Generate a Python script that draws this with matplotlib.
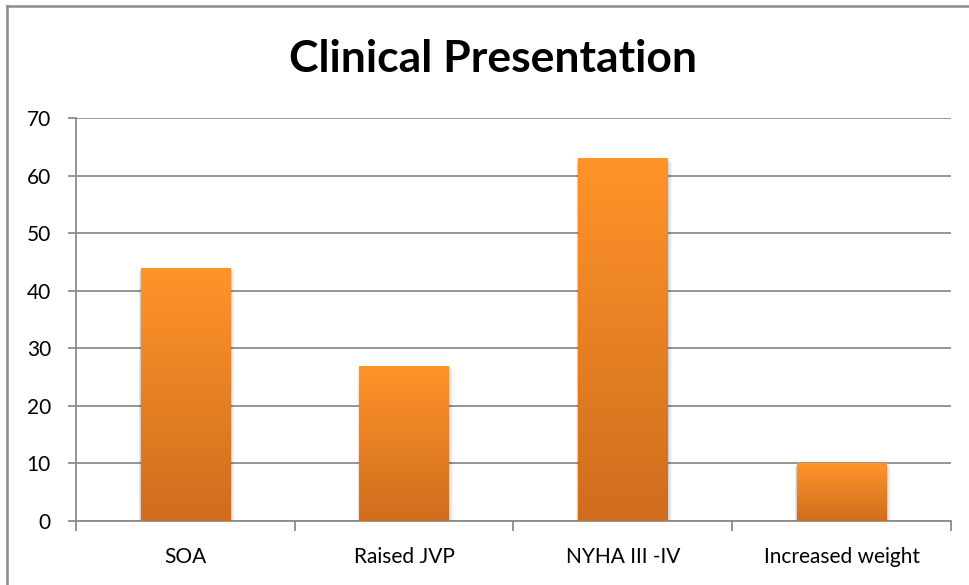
"""Clinical presentation bar chart."""

import matplotlib

matplotlib.use("Agg")
import matplotlib.pyplot as plt
import numpy as np
from matplotlib.colors import LinearSegmentedColormap
from matplotlib.lines import Line2D
from matplotlib.patches import Rectangle

categories = ["SOA", "Raised JVP", "NYHA III -IV", "Increased weight"]
values = [44, 27, 63, 10]
y_ticks = [0, 10, 20, 30, 40, 50, 60, 70]

plt.rcParams["font.family"] = ["Lato", "DejaVu Sans"]

grey = "#8c8c8c"
fig = plt.figure(figsize=(9.69, 5.85), dpi=100)
ax = fig.add_axes([0.0784, 0.1094, 0.9030, 0.6889])

x = np.arange(len(categories))
bars = ax.bar(x, values, width=0.41, color="none", zorder=3)

grad = LinearSegmentedColormap.from_list("bar", ["#cf6d1e", "#ff9429"])
ramp = np.linspace(0, 1, 256).reshape(-1, 1)
for bar in bars:
    x0, y0 = bar.get_x(), bar.get_y()
    w, h = bar.get_width(), bar.get_height()
    # soft shadow
    for i, a in enumerate([0.10, 0.06, 0.03]):
        d = 0.010 * (i + 1)
        ax.add_patch(Rectangle((x0 - d * 0.3, y0 - 0.3 * (i + 1)), w + d, h + 0.1,
                               facecolor="black", alpha=a, linewidth=0, zorder=2))
    im = ax.imshow(ramp, cmap=grad, aspect="auto", origin="lower",
                   extent=(x0, x0 + w, y0, y0 + h), zorder=3)
    im.set_clip_path(bar)

ax.set_xlim(-0.5, len(categories) - 0.5)
ax.set_ylim(0, 70)
ax.set_yticks(y_ticks)
ax.yaxis.grid(True, color=grey, linewidth=1.3, zorder=0)
ax.set_axisbelow(True)

ax.set_xticks(x)
ax.set_xticklabels(categories, fontsize=15)
ax.set_xticks(np.arange(len(categories) + 1) - 0.5, minor=True)
ax.tick_params(axis="x", which="major", length=0, pad=19)
ax.tick_params(axis="x", which="minor", length=7, width=1.3, color=grey)
ax.tick_params(axis="y", length=6, width=1.3, color=grey, labelsize=15, pad=12)

for side in ["top", "right"]:
    ax.spines[side].set_visible(False)
for side in ["left", "bottom"]:
    ax.spines[side].set_color(grey)
    ax.spines[side].set_linewidth(1.3)

fig.text(0.509, 0.900, "Clinical Presentation", ha="center", va="center",
         fontsize=32, fontweight="bold")

# chart frame (left and top edges only visible)
fig.add_artist(Line2D([0.0072, 0.0072], [0, 0.990], color=grey, linewidth=1.8,
                      transform=fig.transFigure))
fig.add_artist(Line2D([0.0072, 1.0], [0.990, 0.990], color=grey, linewidth=1.8,
                      transform=fig.transFigure))

fig.savefig("out.png", dpi=100)
